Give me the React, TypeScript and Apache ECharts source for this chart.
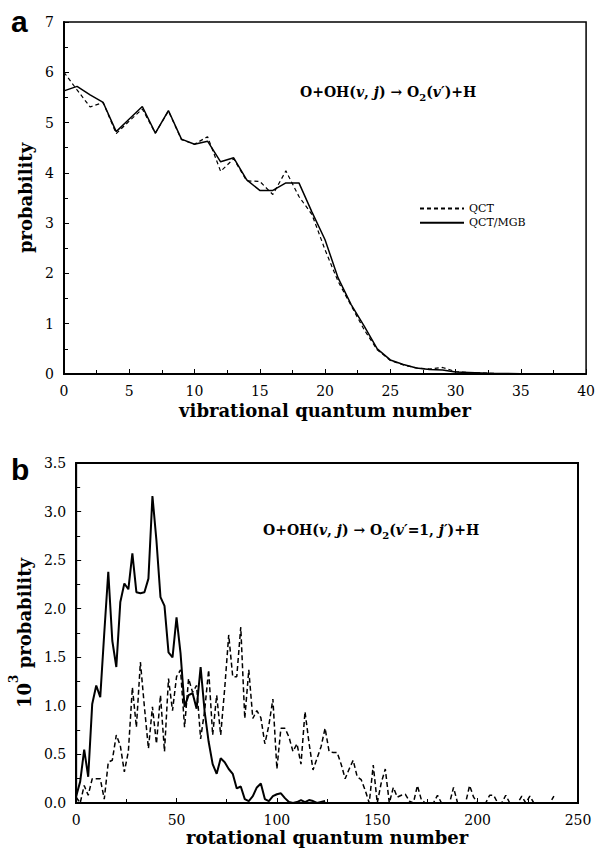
import React, { useEffect, useRef } from "react";
import * as echarts from "echarts";

// ---------- Panel a : vibrational distribution ----------
const vibLevels = [
  0, 1, 2, 3, 4, 5, 6, 7, 8, 9, 10, 11, 12, 13, 14, 15, 16, 17, 18, 19, 20,
  21, 22, 23, 24, 25, 26, 27, 28, 29, 30, 31, 32, 33, 34, 35, 36, 37, 38, 39, 40,
];
const qctVib = [
  6.0, 5.65, 5.31, 5.4, 4.78, 5.03, 5.27, 4.79, 5.23, 4.66, 4.57,
  4.72, 4.03, 4.28, 3.84, 3.83, 3.57, 4.04, 3.53, 3.17, 2.47,
  1.84, 1.36, 0.88, 0.48, 0.27, 0.18, 0.12, 0.1, 0.13, 0.05,
  0.03, 0.02, 0.01, 0.01, 0.005, 0, 0, 0, 0, 0,
];
const mgbVib = [
  5.63, 5.72, 5.55, 5.4, 4.82, 5.07, 5.32, 4.79, 5.24, 4.67, 4.57,
  4.63, 4.22, 4.3, 3.86, 3.65, 3.65, 3.8, 3.8, 3.22, 2.67,
  1.91, 1.38, 0.95, 0.5, 0.28, 0.19, 0.12, 0.09, 0.08, 0.04,
  0.03, 0.02, 0.01, 0.01, 0.005, 0, 0, 0, 0, 0,
];

// ---------- Panel b : rotational distribution (v'=1) ----------
const rotJ = [
  0, 2, 4, 6, 8, 10, 12, 14, 16, 18, 20, 22, 24, 26, 28, 30, 32, 34, 36, 38,
  40, 42, 44, 46, 48, 50, 52, 54, 56, 58, 60, 62, 64, 66, 68, 70, 72, 74, 76, 78,
  80, 82, 84, 86, 88, 90, 92, 94, 96, 98, 100, 102, 104, 106, 108, 110, 112, 114, 116, 118,
  120, 122, 124, 126, 128, 130, 132, 134, 136, 138, 140, 142, 144, 146, 148, 150, 152, 154, 156, 158,
  160, 162, 164, 166, 168, 170, 172, 174, 176, 178, 180, 182, 184, 186, 188, 190, 192, 194, 196, 198,
  200, 202, 204, 206, 208, 210, 212, 214, 216, 218, 220, 222, 224, 226, 228, 230, 232, 234, 236, 238,
];
const qctRot = [
  0.06, 0.0, 0.18, 0.08, 0.25, 0.25, 0.25, 0.04, 0.42, 0.44,
  0.7, 0.59, 0.32, 0.53, 1.19, 0.78, 1.45, 0.99, 0.56, 0.99,
  0.61, 1.11, 0.53, 1.28, 0.95, 1.3, 1.37, 0.78, 1.28, 1.14,
  1.21, 0.66, 0.95, 1.37, 0.7, 1.11, 0.7, 1.18, 1.73, 1.3,
  1.3, 1.81, 0.87, 1.37, 0.87, 0.95, 0.88, 0.61, 0.8, 1.07,
  0.35, 0.77, 0.77, 0.68, 0.53, 0.61, 0.4, 0.94, 0.62, 0.34,
  0.46, 0.58, 0.77, 0.53, 0.52, 0.52, 0.4, 0.25, 0.35, 0.44,
  0.27, 0.24, 0.13, 0.0, 0.39, 0.0, 0.21, 0.35, 0.0, 0.16,
  0.06, 0.08, 0.09, 0.02, 0.0, 0.18, 0.03, 0.0, 0.0, 0.0,
  0.08, 0.0, 0.0, 0.0, 0.16, 0.0, 0.0, 0.0, 0.18, 0.06,
  0.0, 0.0, 0.0, 0.08, 0.08, 0.0, 0.0, 0.08, 0.0, 0.0,
  0.0, 0.07, 0.0, 0.07, 0.0, 0.0, 0.0, 0.0, 0.0, 0.07,
];
const mgbRot = [
  0.07, 0.22, 0.55, 0.27, 1.02, 1.21, 1.09, 1.75, 2.38, 1.67,
  1.4, 2.07, 2.26, 2.2, 2.57, 2.17, 2.16, 2.17, 2.31, 3.16,
  2.7, 2.12, 2.03, 1.55, 1.5, 1.91, 1.54, 0.99, 1.11, 1.13,
  0.97, 1.4, 0.94, 0.63, 0.4, 0.3, 0.46, 0.42, 0.35, 0.3,
  0.15, 0.17, 0.04, 0.02, 0.07, 0.16, 0.2, 0.04, 0.02, 0.07,
  0.09, 0.1, 0.05, 0.01, 0.0, 0.01, 0.03, 0.01, 0.03, 0.02,
  0.0, 0.01, 0.02,
];

const seriesNames = ["QCT", "QCT/MGB"];

const SERIF = "DejaVu Serif";
const tickLabel = { fontFamily: SERIF, fontSize: 14, color: "#000", margin: 10 };
const axisTitle = { fontFamily: SERIF, fontSize: 18, fontWeight: "bold" as const, color: "#000" };

function pairs(xs: number[], ys: number[]) {
  return ys.map((y, i) => [xs[i], y]);
}

function baseAxis(extra: any) {
  return {
    axisLine: { show: true, lineStyle: { color: "#000", width: 2 } },
    axisTick: { show: true, inside: true, length: 5, lineStyle: { color: "#000", width: 1 } },
    minorTick: { show: true, splitNumber: 2, length: 4, lineStyle: { color: "#000", width: 1 } },
    splitLine: { show: false },
    axisLabel: { ...tickLabel },
    ...extra,
  };
}

const richReaction = {
  b: { fontFamily: SERIF, fontWeight: "bold", fontSize: 14, lineHeight: 20, verticalAlign: "middle", fill: "#000" },
  i: { fontFamily: SERIF, fontWeight: "bold", fontStyle: "italic", fontSize: 14, lineHeight: 20, verticalAlign: "middle", fill: "#000" },
  s: { fontFamily: SERIF, fontWeight: "bold", fontSize: 10, lineHeight: 20, verticalAlign: "bottom", fill: "#000" },
};

export default function App() {
  const ref = useRef<HTMLDivElement>(null);
  useEffect(() => {
    const chart = echarts.init(ref.current!, null, { renderer: "svg" });
    const option: any = {
      animation: false,
      backgroundColor: "#fff",
      grid: [
        { left: 64, top: 22, width: 523, height: 352, show: true, borderColor: "#000", borderWidth: 1.5, backgroundColor: "transparent" },
        { left: 73, top: 463, width: 505, height: 340, show: true, borderColor: "#000", borderWidth: 2, backgroundColor: "transparent" },
      ],
      xAxis: [
        baseAxis({
          type: "value", gridIndex: 0, min: 0, max: 40, interval: 5,
          name: "vibrational quantum number", nameLocation: "middle", nameGap: 27,
          nameTextStyle: axisTitle,
        }),
        baseAxis({
          type: "value", gridIndex: 1, min: 0, max: 250, interval: 50,
          name: "rotational quantum number", nameLocation: "middle", nameGap: 25,
          nameTextStyle: axisTitle,
        }),
      ],
      yAxis: [
        baseAxis({
          type: "value", gridIndex: 0, min: 0, max: 7, interval: 1,
          name: "probability", nameLocation: "middle", nameGap: 30,
          nameTextStyle: axisTitle,
        }),
        baseAxis({
          type: "value", gridIndex: 1, min: 0, max: 3.5, interval: 0.5,
          axisLabel: { ...tickLabel, formatter: (v: number) => v.toFixed(1) },
          name: "{n|10}{s|3}{n| probability}", nameLocation: "middle", nameGap: 39,
          nameTextStyle: {
            ...axisTitle,
            rich: {
              n: { fontFamily: SERIF, fontSize: 18, fontWeight: "bold", color: "#000", lineHeight: 25, verticalAlign: "bottom" },
              s: { fontFamily: SERIF, fontSize: 12, fontWeight: "bold", color: "#000", lineHeight: 25, verticalAlign: "top" },
            },
          },
        }),
      ],
      legend: {
        data: seriesNames,
        orient: "vertical",
        left: 414,
        top: 198,
        itemWidth: 44,
        itemHeight: 14,
        itemGap: 3,
        itemStyle: { color: "rgba(0,0,0,0)", borderColor: "rgba(0,0,0,0)", borderWidth: 0 },
        textStyle: { fontFamily: SERIF, fontSize: 11, color: "#000" },
        inactiveColor: "#000",
      },
      series: [
        {
          name: seriesNames[0], type: "line", xAxisIndex: 0, yAxisIndex: 0,
          data: pairs(vibLevels, qctVib), symbol: "none", showSymbol: false,
          lineStyle: { color: "#000", width: 1.2, type: [4, 3] }, itemStyle: { color: "#000" },
        },
        {
          name: seriesNames[1], type: "line", xAxisIndex: 0, yAxisIndex: 0,
          data: pairs(vibLevels, mgbVib), symbol: "none", showSymbol: false,
          lineStyle: { color: "#000", width: 1.5, type: "solid" }, itemStyle: { color: "#000" },
        },
        {
          name: "QCT rot", type: "line", xAxisIndex: 1, yAxisIndex: 1,
          data: pairs(rotJ, qctRot), symbol: "none", showSymbol: false,
          lineStyle: { color: "#000", width: 1.5, type: [5, 3] },
        },
        {
          name: "QCT/MGB rot", type: "line", xAxisIndex: 1, yAxisIndex: 1,
          data: pairs(rotJ, mgbRot), symbol: "none", showSymbol: false,
          lineStyle: { color: "#000", width: 2, type: "solid" },
        },
      ],
      graphic: [
        {
          type: "text", x: 11, y: 21,
          style: { text: "a", fontFamily: "Liberation Sans", fontWeight: "bold", fontSize: 30, fill: "#000", align: "left", verticalAlign: "middle" },
        },
        {
          type: "text", x: 11, y: 469,
          style: { text: "b", fontFamily: "Liberation Sans", fontWeight: "bold", fontSize: 30, fill: "#000", align: "left", verticalAlign: "middle" },
        },
        {
          type: "text", x: 300, y: 92,
          style: {
            text: "{b|O+OH(}{i|v}{b|, }{i|j}{b|) → O}{s|2}{b|(}{i|v′}{b|)+H}",
            rich: richReaction, align: "left", verticalAlign: "middle", fill: "#000",
          },
        },
        {
          type: "text", x: 263, y: 530,
          style: {
            text: "{b|O+OH(}{i|v}{b|, }{i|j}{b|) → O}{s|2}{b|(}{i|v′}{b|=1, }{i|j′}{b|)+H}",
            rich: richReaction, align: "left", verticalAlign: "middle", fill: "#000",
          },
        },
      ],
    };
    chart.setOption(option);
    return () => chart.dispose();
  }, []);
  return (
    <div
      ref={ref}
      style={{ position: "fixed", left: 0, top: 0, width: 598, height: 848, background: "#fff" }}
    />
  );
}
